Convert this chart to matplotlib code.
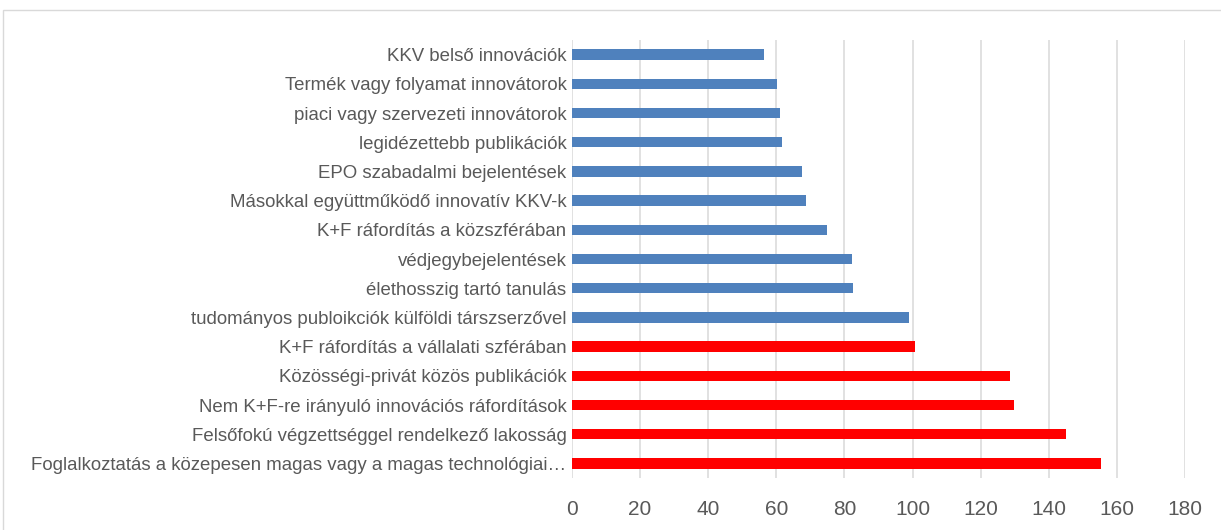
import matplotlib.pyplot as plt
from matplotlib.patches import Rectangle

# indicators, listed top to bottom
labels = [
    'KKV belső innovációk',
    'Termék vagy folyamat innovátorok',
    'piaci vagy szervezeti innovátorok',
    'legidézettebb publikációk',
    'EPO szabadalmi bejelentések',
    'Másokkal együttműködő innovatív KKV-k',
    'K+F ráfordítás a közszférában',
    'védjegybejelentések',
    'élethosszig tartó tanulás',
    'tudományos publoikciók külföldi társzserzővel',
    'K+F ráfordítás a vállalati szférában',
    'Közösségi-privát közös publikációk',
    'Nem K+F-re irányuló innovációs ráfordítások',
    'Felsőfokú végzettséggel rendelkező lakosság',
    'Foglalkoztatás a közepesen magas vagy a magas technológiai…',
]
values = [56.5, 60.3, 61.1, 61.7, 67.4, 68.7, 75.0, 82.2, 82.4, 98.9,
          100.6, 128.7, 129.8, 145.1, 155.4]
# indicators above 100 are highlighted
colors = ['#4f81bd' if v < 100 else '#ff0000' for v in values]
xticks = [0, 20, 40, 60, 80, 100, 120, 140, 160, 180]

plt.rcParams['font.family'] = ['Liberation Sans', 'DejaVu Sans']

fig = plt.figure(figsize=(12.21, 5.30), dpi=100)
fig.patches.append(Rectangle((3 / 1221, -0.01), 1.0, 1 - 10 / 530 + 0.01,
                             transform=fig.transFigure, fill=False,
                             edgecolor='#d9d9d9', linewidth=1.0))

ax = fig.add_axes([572 / 1221, 1 - 478 / 530, 613 / 1221, 438 / 530])
ypos = range(len(labels))
ax.barh(ypos, values, height=0.35, color=colors, zorder=3)

ax.set_xlim(0, 180)
ax.set_ylim(len(labels) - 0.5, -0.5)
ax.set_xticks(xticks)
ax.set_yticks(list(ypos))
ax.set_yticklabels(labels)
ax.tick_params(axis='y', length=0, pad=4, labelsize=13.4, labelcolor='#595959')
ax.tick_params(axis='x', length=0, pad=16, labelsize=15, labelcolor='#595959')
ax.grid(axis='x', color='#d9d9d9', linewidth=1.1, zorder=0)
for s in ax.spines.values():
    s.set_visible(False)

fig.savefig('out.png', dpi=100)
